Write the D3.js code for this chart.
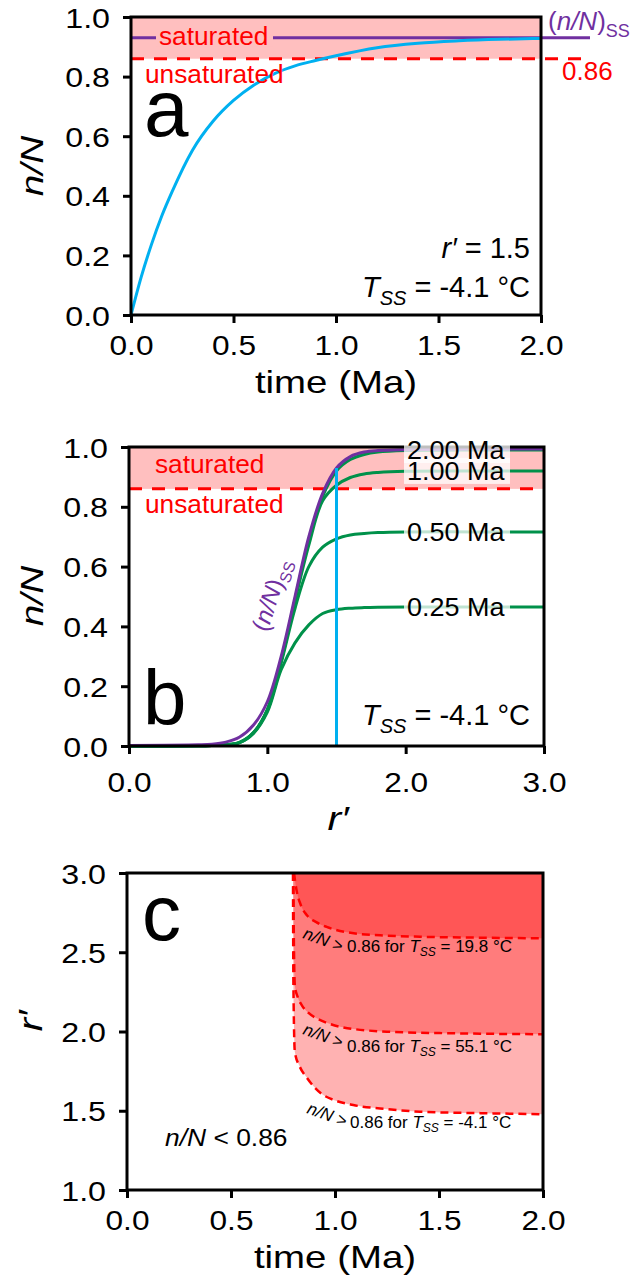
<!DOCTYPE html>
<html>
<head>
<meta charset="utf-8">
<title>n/N saturation</title>
<style>
body { margin: 0; background: #fff; }
svg { display: block; font-family: "Liberation Sans", Arial, sans-serif; }
.frame { fill: none; stroke: #000; stroke-width: 3; }
.axis path { display: none; }
.axis line { stroke: #000; stroke-width: 3; }
.axis text { font-size: 28px; font-family: "Liberation Sans", Arial, sans-serif; fill: #000; }
</style>
</head>
<body>
<div id="chart"></div>
<script src="https://cdn.jsdelivr.net/npm/d3@7"></script>
<script>

// panel a : n/N against time at r' = 1.5
var timeMa = [0, 0.05, 0.1, 0.15, 0.2, 0.3, 0.4, 0.5, 0.6, 0.7, 0.8, 0.9, 1.0, 1.2, 1.4, 1.6, 1.8, 2.0];
var nNtime = [0, 0.128, 0.237, 0.332, 0.413, 0.553, 0.650, 0.720, 0.772, 0.810, 0.836, 0.854, 0.870, 0.897, 0.912, 0.920, 0.925, 0.928];
var nNss = 0.93;
var satLimit = 0.86;

// panel b : n/N against r'
var rPrime = [0, 0.5, 0.6, 0.7, 0.8, 0.9, 1.0, 1.1, 1.2, 1.3, 1.4, 1.5, 1.6, 1.7, 1.8, 2.0, 2.5, 3.0];
var nNssR  = [0.002, 0.004, 0.006, 0.013, 0.030, 0.070, 0.148, 0.300, 0.500, 0.700, 0.845, 0.930, 0.968, 0.983, 0.988, 0.991, 0.993, 0.993];
var nN200  = [0, 0.001, 0.002, 0.004, 0.012, 0.045, 0.122, 0.285, 0.490, 0.688, 0.835, 0.920, 0.958, 0.975, 0.983, 0.988, 0.990, 0.990];
var nN100  = [0, 0.001, 0.002, 0.004, 0.012, 0.045, 0.121, 0.283, 0.485, 0.672, 0.820, 0.872, 0.898, 0.910, 0.915, 0.919, 0.920, 0.920];
var nN050  = [0, 0.001, 0.002, 0.004, 0.012, 0.044, 0.119, 0.278, 0.460, 0.600, 0.665, 0.693, 0.706, 0.711, 0.714, 0.716, 0.716, 0.716];
var nN025  = [0, 0.001, 0.002, 0.004, 0.011, 0.042, 0.113, 0.255, 0.345, 0.405, 0.443, 0.456, 0.461, 0.463, 0.464, 0.465, 0.465, 0.465];
var ageLabels = ["0.25 Ma", "0.50 Ma", "1.00 Ma", "2.00 Ma"];
var rMark = 1.5;

// panel c : r' needed for n/N > 0.86
var t198 = [0.803, 0.808, 0.816, 0.835, 0.864, 0.91, 0.96, 1.09, 1.25, 1.41, 1.7, 2.0];
var r198 = [3.0, 2.95, 2.885, 2.8, 2.735, 2.69, 2.66, 2.62, 2.605, 2.598, 2.592, 2.588];
var t551 = [0.800, 0.802, 0.807, 0.82, 0.84, 0.87, 0.912, 0.96, 1.024, 1.25, 1.6, 2.0];
var r551 = [3.0, 2.6, 2.29, 2.22, 2.167, 2.12, 2.083, 2.055, 2.03, 1.999, 1.988, 1.983];
var t41  = [0.798, 0.800, 0.807, 0.83, 0.864, 0.90, 0.943, 1.00, 1.088, 1.25, 1.41, 1.7, 2.0];
var r41  = [3.0, 2.3, 1.87, 1.78, 1.71, 1.65, 1.60, 1.565, 1.536, 1.51, 1.494, 1.485, 1.478];
var tssLabels = ["19.8", "55.1", "-4.1"];

var timeTicks = [0, 0.5, 1.0, 1.5, 2.0];
var fracTicks = [0, 0.2, 0.4, 0.6, 0.8, 1.0];
var rTicksB = [0, 1, 2, 3];
var rTicksC = [1.0, 1.5, 2.0, 2.5, 3.0];

var RED = "#ff0000", PURPLE = "#7030a0", BLUE = "#00b0f0", GREEN = "#00914a", PINK = "#ffbfbf";

var svg = d3.select("#chart").append("svg")
    .attr("width", 632)
    .attr("height", 1283);

// text with tspans; parts: string or {t, i, sub}
function label(g, x, y, parts, o) {
  o = o || {};
  var size = o.size || 24, sx = o.sx || 1;
  var tr = "translate(" + x + "," + y + ")";
  if (o.rot) tr += " rotate(" + o.rot + ")";
  if (sx != 1) tr += " scale(" + sx + ",1)";
  var t = g.append("text")
      .attr("transform", tr)
      .attr("font-size", size)
      .attr("fill", o.color || "#000")
      .attr("text-anchor", o.anchor || "start");
  if (o.dy) t.attr("dy", o.dy);
  var shift = 0;
  parts.forEach(function(p) {
    if (typeof p === "string") p = {t: p};
    var s = t.append("tspan").text(p.t);
    if (p.i) s.attr("font-style", "italic");
    var want = p.sub ? Math.round(size * 0.26) : 0;
    if (want != shift) { s.attr("dy", want - shift); shift = want; }
    if (p.sub) s.attr("font-size", Math.round(size * 0.68));
  });
  return t;
}

function axes(g, x, y, xTicks, yTicks, xLabY) {
  var bottom = y.range()[0];
  var ax = g.append("g")
      .attr("class", "axis")
      .attr("transform", "translate(0," + bottom + ")")
      .call(d3.axisBottom(x).tickValues(xTicks).tickSize(8).tickFormat(d3.format(".1f")));
  ax.selectAll("text").attr("y", xLabY).attr("dy", null)
      .attr("transform", "scale(1.13,1)");

  var ay = g.append("g")
      .attr("class", "axis")
      .attr("transform", "translate(" + x.range()[0] + ",0)")
      .call(d3.axisLeft(y).tickValues(yTicks).tickSize(8).tickFormat(d3.format(".1f")));
  ay.selectAll("text").attr("x", -21 / 1.15).attr("dy", "0.36em")
      .attr("transform", "scale(1.15,1)");

  g.append("rect")
      .attr("class", "frame")
      .attr("x", x.range()[0])
      .attr("y", y.range()[1])
      .attr("width", x.range()[1] - x.range()[0])
      .attr("height", y.range()[0] - y.range()[1]);
}

// ---------------- panel a ----------------
var ga = svg.append("g");
var xa = d3.scaleLinear().domain([0, 2]).range([131, 541]);
var ya = d3.scaleLinear().domain([0, 1]).range([315, 17]);

ga.append("rect")
    .attr("x", xa(0)).attr("y", ya(1))
    .attr("width", xa(2) - xa(0)).attr("height", ya(satLimit) - ya(1))
    .attr("fill", PINK);

ga.append("line")
    .attr("x1", xa(0)).attr("x2", 590)
    .attr("y1", ya(nNss)).attr("y2", ya(nNss))
    .attr("stroke", PURPLE).attr("stroke-width", 3);

ga.append("rect")
    .attr("x", 156).attr("y", ya(nNss) - 9)
    .attr("width", 117).attr("height", 18)
    .attr("fill", PINK);

ga.append("line")
    .attr("x1", xa(0)).attr("x2", 581)
    .attr("y1", ya(satLimit)).attr("y2", ya(satLimit))
    .attr("stroke", RED).attr("stroke-width", 3)
    .attr("stroke-dasharray", "13,10");

var lineA = d3.line()
    .x(function(d, i) { return xa(timeMa[i]); })
    .y(function(d) { return ya(d); })
    .curve(d3.curveMonotoneX);

ga.append("path")
    .attr("d", lineA(nNtime))
    .attr("fill", "none")
    .attr("stroke", BLUE)
    .attr("stroke-width", 3);

axes(ga, xa, ya, timeTicks, fracTicks, 40);

label(ga, 159, 45, ["saturated"], {size: 25, sx: 1.05, color: RED});
label(ga, 145, 83, ["unsaturated"], {size: 25, sx: 1.05, color: RED});
label(ga, 562, 80, ["0.86"], {size: 25, sx: 1.04, color: RED});
label(ga, 548, 30, ["(", {t: "n/N", i: 1}, ")", {t: "SS", sub: 1}], {size: 26, color: PURPLE});
label(ga, 144, 136, ["a"], {size: 80});
label(ga, 530, 258, [{t: "r′", i: 1}, " = 1.5"], {size: 29, anchor: "end"});
label(ga, 530, 297, [{t: "T", i: 1}, {t: "SS", i: 1, sub: 1}, " = -4.1 °C"], {size: 29, anchor: "end"});
label(ga, 43, 166, [{t: "n/N", i: 1}], {size: 31, sx: 1.25, rot: -90, anchor: "middle"});
label(ga, 336, 393, ["time (Ma)"], {size: 31, sx: 1.24, anchor: "middle"});

// ---------------- panel b ----------------
var gb = svg.append("g");
var xb = d3.scaleLinear().domain([0, 3]).range([129, 544]);
var yb = d3.scaleLinear().domain([0, 1]).range([746, 447]);

gb.append("rect")
    .attr("x", xb(0)).attr("y", yb(1))
    .attr("width", xb(3) - xb(0)).attr("height", yb(satLimit) - yb(1))
    .attr("fill", PINK);

gb.append("line")
    .attr("x1", xb(0)).attr("x2", xb(3))
    .attr("y1", yb(satLimit)).attr("y2", yb(satLimit))
    .attr("stroke", RED).attr("stroke-width", 3)
    .attr("stroke-dasharray", "13,10");

var lineB = d3.line()
    .x(function(d, i) { return xb(rPrime[i]); })
    .y(function(d) { return yb(d); })
    .curve(d3.curveCatmullRom.alpha(0.5));

var greens = [nN025, nN050, nN100, nN200];
gb.selectAll(".age")
    .data(greens)
    .enter().append("path")
    .attr("class", "age")
    .attr("d", lineB)
    .attr("fill", "none")
    .attr("stroke", GREEN)
    .attr("stroke-width", 3);

gb.append("path")
    .attr("d", lineB(nNssR))
    .attr("fill", "none")
    .attr("stroke", PURPLE)
    .attr("stroke-width", 3);

gb.append("line")
    .attr("x1", xb(rMark)).attr("x2", xb(rMark))
    .attr("y1", yb(0)).attr("y2", yb(nNss))
    .attr("stroke", BLUE).attr("stroke-width", 3);

axes(gb, xb, yb, rTicksB, fracTicks, 46);

// label boxes first, then the texts on top
greens.forEach(function(arr) {
  var ly = yb(arr[arr.length - 1]);
  gb.append("rect")
      .attr("x", 404).attr("y", ly - 13)
      .attr("width", 106).attr("height", 26)
      .attr("fill", "#fff").attr("fill-opacity", 0.75);
});
greens.forEach(function(arr, i) {
  var ly = yb(arr[arr.length - 1]);
  label(gb, 407, ly, [ageLabels[i]], {size: 25, sx: 1.08, dy: "0.36em"});
});

label(gb, 155, 473, ["saturated"], {size: 25, sx: 1.05, color: RED});
label(gb, 145, 513, ["unsaturated"], {size: 25, sx: 1.05, color: RED});
label(gb, 281, 598, ["(", {t: "n/N", i: 1}, ")", {t: "SS", sub: 1}], {size: 24, color: PURPLE, rot: -72, anchor: "middle", dy: "-0.1em"});
label(gb, 143, 725, ["b"], {size: 78});
label(gb, 530, 725, [{t: "T", i: 1}, {t: "SS", i: 1, sub: 1}, " = -4.1 °C"], {size: 29, anchor: "end"});
label(gb, 43, 596, [{t: "n/N", i: 1}], {size: 31, sx: 1.25, rot: -90, anchor: "middle"});
label(gb, 338, 830, [{t: "r′", i: 1}], {size: 34, sx: 1.2, anchor: "middle"});

// ---------------- panel c ----------------
var gc = svg.append("g");
var xc = d3.scaleLinear().domain([0, 2]).range([127, 543]);
var yc = d3.scaleLinear().domain([1, 3]).range([1190, 873]);

var bounds = [[t41, r41], [t551, r551], [t198, r198]];

var areaC = d3.area()
    .x(function(d) { return xc(d[0]); })
    .y0(yc(3))
    .y1(function(d) { return yc(d[1]); })
    .curve(d3.curveMonotoneX);

var lineC = d3.line()
    .x(function(d) { return xc(d[0]); })
    .y(function(d) { return yc(d[1]); })
    .curve(d3.curveMonotoneX);

bounds.forEach(function(b) {
  var pts = b[0].map(function(t, i) { return [t, b[1][i]]; });
  gc.append("path")
      .attr("d", areaC(pts))
      .attr("fill", RED)
      .attr("fill-opacity", 0.3);
});
bounds.forEach(function(b) {
  var pts = b[0].map(function(t, i) { return [t, b[1][i]]; });
  gc.append("path")
      .attr("d", lineC(pts))
      .attr("fill", "none")
      .attr("stroke", RED)
      .attr("stroke-width", 2.5)
      .attr("stroke-dasharray", "8,5");
});

axes(gc, xc, yc, timeTicks, rTicksC, 40);

var boundLab = [[302, 938, 347, 952], [302, 1034, 347, 1052], [306, 1113, 350, 1128]];
boundLab.forEach(function(p, i) {
  label(gc, p[0], p[1], [{t: "n/N", i: 1}, " >"], {size: 17, rot: 20});
  label(gc, p[2], p[3], ["0.86 for ", {t: "T", i: 1}, {t: "SS", i: 1, sub: 1}, " = " + tssLabels[i] + " °C"], {size: 17});
});

label(gc, 165, 1146, [{t: "n/N", i: 1}, " < 0.86"], {size: 24, sx: 1.1});
label(gc, 142, 940, ["c"], {size: 78});
label(gc, 42, 1021, [{t: "r′", i: 1}], {size: 34, sx: 1.2, rot: -90, anchor: "middle"});
label(gc, 335, 1268, ["time (Ma)"], {size: 31, sx: 1.24, anchor: "middle"});

</script>
</body>
</html>
